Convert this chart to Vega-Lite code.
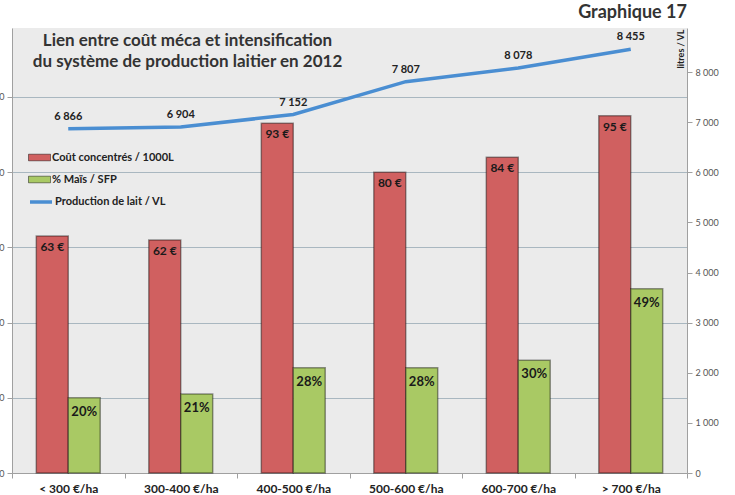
{
  "$schema": "https://vega.github.io/schema/vega-lite/v6.json",
  "width": 675,
  "height": 445,
  "autosize": {"type": "none"},
  "padding": {"left": 12, "top": 28, "right": 48, "bottom": 22},
  "background": "white",
  "config": {
    "font": "Lato",
    "view": {"fill": "#ebebeb", "stroke": null},
    "locale": {"number": {"decimal": ",", "thousands": " ", "grouping": [3], "currency": ["", " €"]}}
  },
  "title": {
    "text": "Graphique 17",
    "anchor": "end",
    "frame": "group",
    "orient": "top",
    "offset": 6,
    "fontSize": 18,
    "fontWeight": "bold",
    "color": "#333333",
    "font": "Lato"
  },
  "datasets": {
    "bars": [
      {"tranche": "< 300 €/ha", "serie": "Coût concentrés / 1000L", "valeur": 63},
      {"tranche": "< 300 €/ha", "serie": "% Maïs / SFP", "valeur": 20},
      {"tranche": "300-400 €/ha", "serie": "Coût concentrés / 1000L", "valeur": 62},
      {"tranche": "300-400 €/ha", "serie": "% Maïs / SFP", "valeur": 21},
      {"tranche": "400-500 €/ha", "serie": "Coût concentrés / 1000L", "valeur": 93},
      {"tranche": "400-500 €/ha", "serie": "% Maïs / SFP", "valeur": 28},
      {"tranche": "500-600 €/ha", "serie": "Coût concentrés / 1000L", "valeur": 80},
      {"tranche": "500-600 €/ha", "serie": "% Maïs / SFP", "valeur": 28},
      {"tranche": "600-700 €/ha", "serie": "Coût concentrés / 1000L", "valeur": 84},
      {"tranche": "600-700 €/ha", "serie": "% Maïs / SFP", "valeur": 30},
      {"tranche": "> 700 €/ha", "serie": "Coût concentrés / 1000L", "valeur": 95},
      {"tranche": "> 700 €/ha", "serie": "% Maïs / SFP", "valeur": 49}
    ],
    "lait": [
      {"tranche": "< 300 €/ha", "serie": "Production de lait / VL", "litres": 6866},
      {"tranche": "300-400 €/ha", "serie": "Production de lait / VL", "litres": 6904},
      {"tranche": "400-500 €/ha", "serie": "Production de lait / VL", "litres": 7152},
      {"tranche": "500-600 €/ha", "serie": "Production de lait / VL", "litres": 7807},
      {"tranche": "600-700 €/ha", "serie": "Production de lait / VL", "litres": 8078},
      {"tranche": "> 700 €/ha", "serie": "Production de lait / VL", "litres": 8455}
    ]
  },
  "resolve": {
    "scale": {"y": "independent"},
    "axis": {"x": "independent", "y": "independent"}
  },
  "layer": [
    {
      "data": {"name": "bars"},
      "encoding": {
        "x": {
          "field": "tranche",
          "type": "nominal",
          "sort": null,
          "scale": {"paddingInner": 0, "paddingOuter": 0},
          "axis": {
            "orient": "bottom",
            "title": null,
            "labelAngle": 0,
            "labelFontSize": 12,
            "labelFontWeight": "bold",
            "labelColor": "#222222",
            "labelPadding": 5,
            "tickBand": "extent",
            "tickSize": 5,
            "tickColor": "#a0a0a0",
            "domainColor": "#a0a0a0",
            "grid": false
          }
        },
        "xOffset": {
          "field": "serie",
          "type": "nominal",
          "sort": ["Coût concentrés / 1000L", "% Maïs / SFP"],
          "scale": {"paddingInner": 0, "paddingOuter": 0.76}
        },
        "y": {
          "field": "valeur",
          "type": "quantitative",
          "scale": {"domain": [0, 118.35], "nice": false, "zero": true},
          "axis": {
            "orient": "left",
            "title": null,
            "values": [0, 20, 40, 60, 80, 100],
            "labelFontSize": 9,
            "labelColor": "#555555",
            "labelPadding": 3,
            "tickSize": 5,
            "tickColor": "#a0a0a0",
            "domainColor": "#a0a0a0",
            "grid": true,
            "gridColor": "#a9b7c0",
            "gridWidth": 1
          }
        }
      },
      "layer": [
        {
          "mark": {"type": "bar", "stroke": "#000000", "strokeOpacity": 0.4, "strokeWidth": 1.5},
          "encoding": {
            "fill": {
              "field": "serie",
              "type": "nominal",
              "scale": {
                "domain": ["Coût concentrés / 1000L", "% Maïs / SFP"],
                "range": ["#d06060", "#a9c964"]
              },
              "legend": {
                "orient": "none",
                "legendX": 16,
                "legendY": 118,
                "title": null,
                "padding": 0,
                "rowPadding": 5,
                "symbolType": "M-1,-0.3H1V0.3H-1Z",
                "symbolSize": 484,
                "symbolStrokeColor": "rgba(0,0,0,0.45)",
                "symbolStrokeWidth": 1,
                "labelFontSize": 11,
                "labelFontWeight": "bold",
                "labelColor": "#222222",
                "labelOffset": 1,
                "labelFont": "Lato"
              }
            }
          }
        },
        {
          "transform": [
            {"filter": "datum.serie == 'Coût concentrés / 1000L'"},
            {"calculate": "format(datum.valeur, 'd') + ' €'", "as": "etiquette"}
          ],
          "mark": {"type": "text", "baseline": "top", "dy": 6, "fontSize": 12, "fontWeight": "bold", "color": "#1a1a1a"},
          "encoding": {"text": {"field": "etiquette"}}
        },
        {
          "transform": [
            {"filter": "datum.serie == '% Maïs / SFP'"},
            {"calculate": "format(datum.valeur, 'd') + '%'", "as": "etiquette"}
          ],
          "mark": {"type": "text", "baseline": "top", "dy": 8, "fontSize": 13, "fontWeight": "bold", "color": "#1a1a1a"},
          "encoding": {"text": {"field": "etiquette"}}
        }
      ]
    },
    {
      "data": {"name": "lait"},
      "encoding": {
        "x": {
          "field": "tranche",
          "type": "nominal",
          "sort": null,
          "scale": {"paddingInner": 0, "paddingOuter": 0},
          "axis": {
            "orient": "top",
            "labels": false,
            "ticks": false,
            "domain": false,
            "grid": false,
            "title": ["Lien entre coût méca et intensification", "du système de production laitier en 2012"],
            "titleX": 175,
            "titleY": 4,
            "titleAlign": "center",
            "titleBaseline": "top",
            "titleFontSize": 17,
            "titleFontWeight": "bold",
            "titleColor": "#333333",
            "titleFont": "Lato",
            "titleLineHeight": 21
          }
        },
        "y": {
          "field": "litres",
          "type": "quantitative",
          "scale": {"domain": [0, 8878], "nice": false, "zero": true},
          "axis": {
            "orient": "right",
            "values": [0, 1000, 2000, 3000, 4000, 5000, 6000, 7000, 8000],
            "format": ",d",
            "grid": false,
            "labelFontSize": 9,
            "labelColor": "#555555",
            "labelPadding": 3,
            "tickSize": 5,
            "tickColor": "#a0a0a0",
            "domainColor": "#a0a0a0",
            "title": "litres / VL",
            "titleAngle": -90,
            "titleX": -2,
            "titleY": 1,
            "titleAlign": "right",
            "titleBaseline": "bottom",
            "titleFontSize": 9,
            "titleFontWeight": "bold",
            "titleColor": "#222222"
          }
        }
      },
      "layer": [
        {
          "mark": {"type": "line", "strokeWidth": 3.5, "interpolate": "linear"},
          "encoding": {
            "color": {
              "field": "serie",
              "type": "nominal",
              "scale": {"domain": ["Production de lait / VL"], "range": ["#4a8ed2"]},
              "legend": {
                "orient": "none",
                "legendX": 16,
                "legendY": 161,
                "title": null,
                "padding": 0,
                "symbolType": "stroke",
                "symbolSize": 484,
                "symbolStrokeWidth": 3.5,
                "labelFontSize": 11,
                "labelFontWeight": "bold",
                "labelColor": "#222222",
                "labelOffset": 1,
                "labelFont": "Lato"
              }
            }
          }
        },
        {
          "mark": {"type": "text", "baseline": "bottom", "dy": -7, "fontSize": 11, "fontWeight": "bold", "color": "#222222"},
          "encoding": {"text": {"field": "litres", "type": "quantitative", "format": ",d"}}
        }
      ]
    }
  ]
}
